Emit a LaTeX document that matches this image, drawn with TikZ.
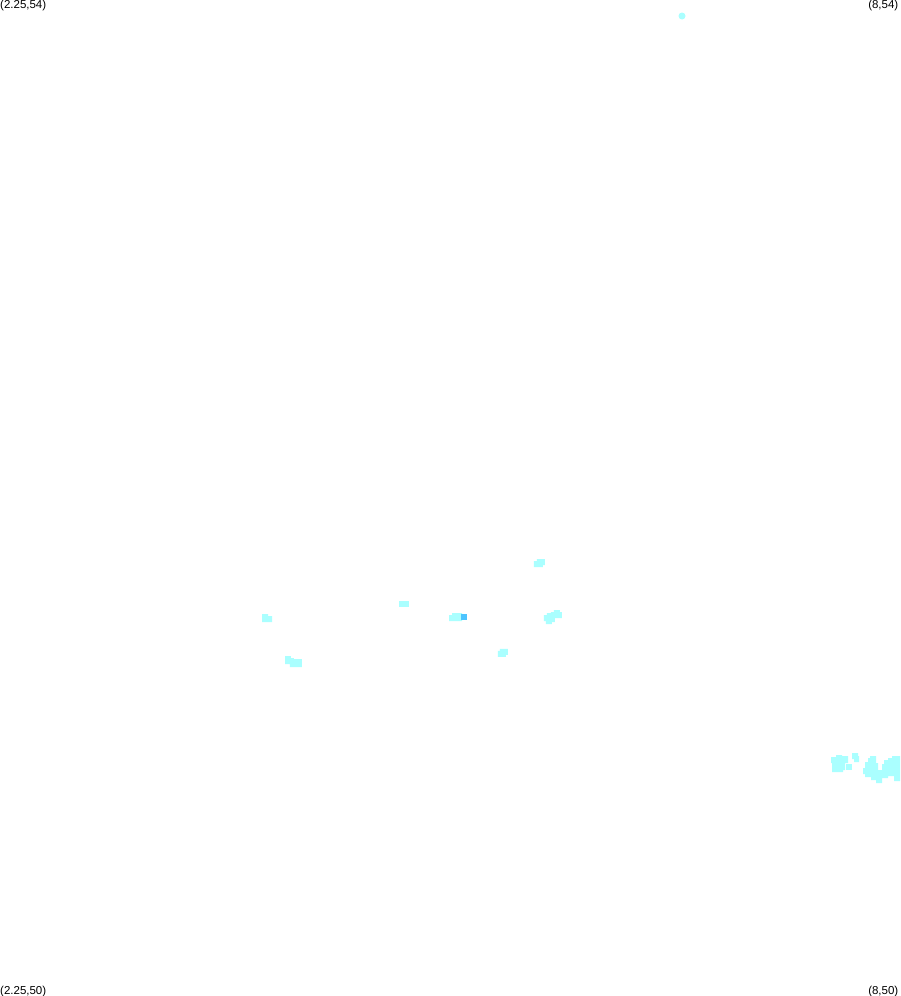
\documentclass[tikz,border=0pt]{standalone}
\usepackage{fontspec}
\setmainfont{Liberation Sans}
\definecolor{lightblob}{HTML}{AAFFFF}
\definecolor{darkblob}{HTML}{4DC4FF}
\tikzset{
  blob/.style={fill=lightblob,draw=none},
  darkcell/.style={fill=darkblob,draw=none},
  corner/.style={inner sep=0pt,font=\fontsize{11.5}{11.5}\selectfont,text=black}
}
\begin{document}
\begin{tikzpicture}[x=1pt,y=-1pt]
\useasboundingbox (0,0) rectangle (900,996);
\fill[white] (0,0) rectangle (900,996);
% corner labels
\node[corner,anchor=west] (tl) at (0,5.5) {(2.25,54)};
\node[corner,anchor=east] (tr) at (898.5,5.5) {(8,54)};
\node[corner,anchor=west] (bl) at (0,991.5) {(2.25,50)};
\node[corner,anchor=east] (br) at (898.5,991.5) {(8,50)};
% top dot
\fill[blob] (682,16) circle (3.5);
% centre group (zoom origin 440,550, factor 3)
\begin{scope}[shift={(440,550)},x=0.3333pt,y=-0.3333pt]
\fill[blob] (282,33)--(291,33)--(291,27)--(315,27)--(315,45)--(309,45)--(309,51)--(282,51)--cycle;
\fill[blob] (27,195)--(36,195)--(36,189)--(66,189)--(66,213)--(27,213)--cycle;
\fill[darkcell] (63,192) rectangle (81,210);
\fill[blob] (312,195)--(321,195)--(321,189)--(333,189)--(333,186)--(342,186)--(342,180)--(360,180)--(360,186)--(366,186)--(366,204)--(345,204)--(345,216)--(336,216)--(336,222)--(318,222)--(318,213)--(312,213)--cycle;
\fill[blob] (174,303)--(180,303)--(180,297)--(204,297)--(204,315)--(198,315)--(198,321)--(174,321)--cycle;
\end{scope}
% left group (zoom origin 255,595)
\begin{scope}[shift={(255,595)},x=0.3333pt,y=-0.3333pt]
\fill[blob] (21,57)--(39,57)--(39,63)--(51,63)--(51,81)--(21,81)--cycle;
\fill[blob] (90,183)--(108,183)--(108,189)--(117,189)--(117,192)--(141,192)--(141,216)--(105,216)--(105,207)--(90,207)--cycle;
\fill[blob] (432,18) rectangle (462,36);
\end{scope}
% right group, left cluster (zoom origin 820,740)
\begin{scope}[shift={(820,740)},x=0.3333pt,y=-0.3333pt]
\fill[blob] (33,51)--(48,51)--(48,45)--(66,45)--(66,48)--(84,48)--(84,69)--(75,69)--(75,90)--(69,90)--(69,96)--(36,96)--(36,69)--(33,69)--cycle;
\fill[blob] (78,72) rectangle (96,90);
\fill[blob] (96,39)--(114,39)--(114,48)--(117,48)--(117,66)--(102,66)--(102,57)--(96,57)--cycle;
\end{scope}
% right group, large blob (zoom origin 860,750)
\begin{scope}[shift={(860,750)},x=0.3333pt,y=-0.3333pt]
\fill[blob] (9,54)--(15,54)--(15,36)--(24,36)--(24,24)--(30,24)--(30,18)--(48,18)--(48,39)--(54,39)--(54,60)--(66,60)--(66,42)--(72,42)--(72,30)--(84,30)--(84,24)--(96,24)--(96,18)--(120,18)--(120,93)--(102,93)--(102,78)--(84,78)--(84,84)--(66,84)--(66,99)--(48,99)--(48,90)--(33,90)--(33,81)--(15,81)--(15,72)--(9,72)--cycle;
\end{scope}
\end{tikzpicture}
\end{document}
